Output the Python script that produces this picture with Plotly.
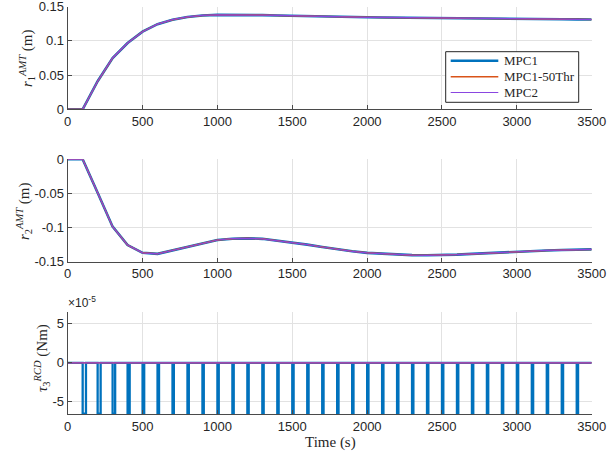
import plotly.graph_objects as go

# ---------------- data ----------------
time_s = [0, 100, 200, 300, 400, 500, 600, 700, 800, 900, 1000, 1100, 1200, 1300,
          1400, 1500, 1600, 1700, 1800, 1900, 2000, 2100, 2200, 2300, 2400, 2500,
          2600, 2700, 2800, 2900, 3000, 3100, 3200, 3300, 3400, 3500]

r1_mpc1 = [0, 0, 0.041, 0.075, 0.097, 0.1135, 0.1245, 0.131, 0.135, 0.1372, 0.1380,
           0.1381, 0.1380, 0.1377, 0.1372, 0.1366, 0.1361, 0.1357, 0.1353, 0.1349,
           0.1345, 0.1343, 0.1340, 0.1338, 0.1335, 0.1333, 0.1331, 0.1329, 0.1327,
           0.1325, 0.1323, 0.1321, 0.1319, 0.1317, 0.1315, 0.1313]
r1_mpc1_50thr = list(r1_mpc1)
r1_mpc2 = list(r1_mpc1)

r2_mpc1 = [0, 0, -0.049, -0.0987, -0.1256, -0.137, -0.1385, -0.1334, -0.1285, -0.1232,
           -0.1182, -0.1163, -0.1158, -0.1165, -0.119, -0.1215, -0.125, -0.1285,
           -0.1318, -0.1348, -0.137, -0.1385, -0.1397, -0.1404, -0.1406, -0.1403,
           -0.1396, -0.1386, -0.1374, -0.1362, -0.135, -0.1342, -0.1335, -0.1329,
           -0.1324, -0.132]
r2_mpc1_50thr = list(r2_mpc1)
r2_mpc2 = list(r2_mpc1)

# MPC1 torque pulses (start time, width in s) and level (Nm)
pulse_start = [100 * k for k in range(1, 35)]
pulse_width = [22, 20, 17, 14, 11, 10] + [9] * 28
pulse_level = -6.5e-5
tau_mpc1_50thr = [0.0] * len(time_s)
tau_mpc2 = [0.0] * len(time_s)

x_ticks = [0, 500, 1000, 1500, 2000, 2500, 3000, 3500]
y1_ticks = [0, 0.05, 0.1, 0.15]
y1_text = ["0", "0.05", "0.1", "0.15"]
y2_ticks = [-0.15, -0.1, -0.05, 0]
y2_text = ["-0.15", "-0.1", "-0.05", "0"]
y3_ticks = [-5e-5, 0, 5e-5]
y3_text = ["-5", "0", "5"]

series_names = ["MPC1", "MPC1-50Thr", "MPC2"]
colors = ["#0072BD", "#D95319", "#8A46E0"]
widths = [2.6, 1.5, 1.2]

# build pulse train for MPC1 torque
tau_t, tau_v = [0], [0.0]
for s, w in zip(pulse_start, pulse_width):
    tau_t += [s, s, s + w, s + w]
    tau_v += [0.0, pulse_level, pulse_level, 0.0]
tau_t.append(time_s[-1])
tau_v.append(0.0)

fig = go.Figure()
r1_all = [r1_mpc1, r1_mpc1_50thr, r1_mpc2]
r2_all = [r2_mpc1, r2_mpc1_50thr, r2_mpc2]
for i in range(3):
    fig.add_trace(go.Scatter(x=time_s, y=r1_all[i], mode="lines", name=series_names[i],
                             line=dict(color=colors[i], width=widths[i]),
                             xaxis="x", yaxis="y"))
for i in range(3):
    fig.add_trace(go.Scatter(x=time_s, y=r2_all[i], mode="lines", name=series_names[i],
                             line=dict(color=colors[i], width=widths[i]),
                             xaxis="x2", yaxis="y2"))
fig.add_trace(go.Scatter(x=tau_t, y=tau_v, mode="lines", name=series_names[0],
                         line=dict(color=colors[0], width=2.3),
                         xaxis="x3", yaxis="y3"))
fig.add_trace(go.Scatter(x=time_s, y=tau_mpc1_50thr, mode="lines", name=series_names[1],
                         line=dict(color=colors[1], width=widths[1]),
                         xaxis="x3", yaxis="y3"))
fig.add_trace(go.Scatter(x=time_s, y=tau_mpc2, mode="lines", name=series_names[2],
                         line=dict(color=colors[2], width=widths[2]),
                         xaxis="x3", yaxis="y3"))

W, H = 608, 462
xd = [67.7 / W, 591.7 / W]
def yd(top, bot):
    return [1 - bot / H, 1 - top / H]

tickfont = dict(family="Liberation Sans, Arial", size=13, color="#262626")
axcommon = dict(showline=True, linecolor="#4a4a4a", linewidth=1, showgrid=True,
                gridcolor="#e2e2e2", gridwidth=1, zeroline=False, ticks="inside",
                ticklen=4, tickcolor="#4a4a4a", tickfont=tickfont, mirror=False,
                automargin=False, ticklabeloverflow="allow")

layout = dict(
    width=W, height=H, margin=dict(l=0, r=0, t=0, b=0, autoexpand=False),
    paper_bgcolor="white", plot_bgcolor="white", showlegend=False,
    xaxis=dict(domain=xd, anchor="y", range=[0, 3500.01], tickvals=x_ticks, **axcommon),
    yaxis=dict(domain=yd(6.5, 109.3), anchor="x", range=[0, 0.1503], tickvals=y1_ticks,
               ticktext=y1_text, **axcommon),
    xaxis2=dict(domain=xd, anchor="y2", range=[0, 3500.01], tickvals=x_ticks, **axcommon),
    yaxis2=dict(domain=yd(159.3, 261.7), anchor="x2", range=[-0.15, 0.00001],
                tickvals=y2_ticks, ticktext=y2_text, **axcommon),
    xaxis3=dict(domain=xd, anchor="y3", range=[0, 3500.01], tickvals=x_ticks, **axcommon),
    yaxis3=dict(domain=yd(311.7, 414), anchor="x3", range=[-6.55e-5, 6.55e-5],
                tickvals=y3_ticks, ticktext=y3_text, **axcommon),
)
fig.update_layout(**layout)

serif = "Liberation Serif, Times New Roman"
ann = [
    dict(text="<i>r</i><sub>1</sub><sup><i>AMT</i></sup> (m)", x=27 / W, y=1 - 58 / H,
         textangle=-90),
    dict(text="<i>r</i><sub>2</sub><sup><i>AMT</i></sup> (m)", x=24 / W, y=1 - 211 / H,
         textangle=-90),
    dict(text="<i>τ</i><sub>3</sub><sup><i>RCD</i></sup> (Nm)", x=42 / W, y=1 - 358 / H,
         textangle=-90),
    dict(text="Time (s)", x=330 / W, y=1 - 442 / H, textangle=0),
]
for a in ann:
    fig.add_annotation(xref="paper", yref="paper", showarrow=False, xanchor="center",
                       yanchor="middle", font=dict(family=serif, size=15, color="#262626"), **a)
fig.add_annotation(text="×10<sup>-5</sup>", xref="paper", yref="paper", x=66 / W,
                   y=1 - 302 / H, xanchor="left", yanchor="middle", showarrow=False,
                   font=dict(family="Liberation Sans, Arial", size=12, color="#262626"))

# ---- legend box (drawn manually to match compact MATLAB legend) ----
lg_left, lg_right, lg_top, lg_bot = 445.7, 578.7, 51.7, 102.3
fig.add_shape(type="rect", xref="paper", yref="paper",
              x0=lg_left / W, x1=lg_right / W, y0=1 - lg_bot / H, y1=1 - lg_top / H,
              line=dict(color="#262626", width=1), fillcolor="white", layer="above")
row_y = [60.7, 76.8, 92.5]
for i in range(3):
    fig.add_shape(type="line", xref="paper", yref="paper",
                  x0=450.7 / W, x1=498.3 / W, y0=1 - row_y[i] / H, y1=1 - row_y[i] / H,
                  line=dict(color=colors[i], width=widths[i]), layer="above")
    fig.add_annotation(text=series_names[i], xref="paper", yref="paper",
                       x=501.5 / W, y=1 - row_y[i] / H, xanchor="left", yanchor="middle",
                       showarrow=False,
                       font=dict(family=serif, size=13, color="#262626"))

fig.write_html("out.html")
